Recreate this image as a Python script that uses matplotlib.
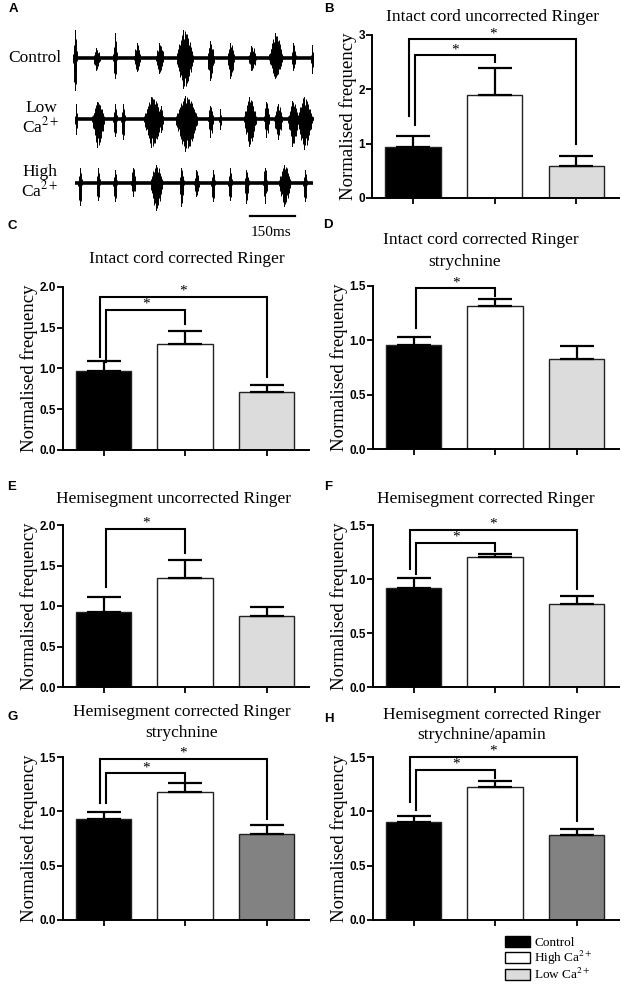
import matplotlib
matplotlib.use('Agg')
import matplotlib.pyplot as plt
from matplotlib.patches import Patch
import numpy as np

plt.rcParams['mathtext.fontset'] = 'stix'
SERIF = 'Liberation Serif'
SANS = 'Liberation Sans'

# ---- panel A: bursts (time ms, half width ms, up, down amplitude)
control_bursts = [(4, 6, 28, 32), (76, 11, 10, 12), (137, 6, 25, 20), (211, 11, 15, 13),
                  (286, 13, 15, 15), (370, 28, 28, 30), (456, 11, 17, 22), (523, 11, 15, 20),
                  (594, 13, 12, 12), (673, 22, 25, 20), (733, 7, 15, 12), (794, 4, 13, 15)]
low_bursts = [(7, 4, 15, 15), (81, 20, 17, 28), (137, 6, 15, 17), (164, 6, 15, 20),
              (264, 31, 22, 28), (292, 6, 13, 13), (376, 36, 23, 32), (456, 9, 13, 18),
              (487, 4, 10, 10), (587, 20, 22, 27), (642, 9, 17, 18), (681, 13, 15, 20),
              (731, 17, 18, 27), (770, 24, 22, 30)]
high_bursts = [(20, 6, 15, 22), (81, 6, 15, 17), (137, 6, 13, 18), (198, 8, 15, 13),
               (276, 20, 18, 27), (359, 7, 15, 23), (409, 8, 13, 13), (464, 6, 13, 18),
               (520, 6, 15, 17), (576, 7, 13, 20), (637, 7, 15, 20), (703, 20, 18, 23),
               (770, 6, 13, 18)]
trace_spans = [(0, 797), (5, 800), (3, 798)]
scale_ms = 150

# ---- bar panels
groups = ['Control', 'High Ca$^{2+}$', 'Low Ca$^{2+}$']
means = {
    'B': [0.93, 1.90, 0.58],
    'C': [0.97, 1.30, 0.71],
    'D': [0.96, 1.316, 0.83],
    'E': [0.93, 1.35, 0.88],
    'F': [0.92, 1.205, 0.767],
    'G': [0.93, 1.18, 0.79],
    'H': [0.90, 1.22, 0.78],
}
errors = {
    'B': [0.22, 0.49, 0.20],
    'C': [0.12, 0.16, 0.09],
    'D': [0.07, 0.065, 0.115],
    'E': [0.18, 0.22, 0.11],
    'F': [0.086, 0.025, 0.079],
    'G': [0.06, 0.08, 0.08],
    'H': [0.06, 0.06, 0.06],
}
# (first bar, second bar, bracket height, left leg end, right leg end)
brackets = {
    'B': [(0, 2, 2.92, 1.50, 0.99), (0, 1, 2.63, 1.34, 2.51)],
    'C': [(0, 2, 1.88, 1.14, 0.90), (0, 1, 1.72, 1.08, 1.55)],
    'D': [(0, 1, 1.48, 1.11, 1.405)],
    'E': [(0, 1, 1.95, 1.24, 1.65)],
    'F': [(0, 2, 1.455, 1.09, 0.905), (0, 1, 1.335, 1.05, 1.26)],
    'G': [(0, 2, 1.485, 1.08, 0.93), (0, 1, 1.35, 1.08, 1.28)],
    'H': [(0, 2, 1.50, 1.09, 0.91), (0, 1, 1.38, 1.01, 1.31)],
}
titles = {
    'B': ['Intact cord uncorrected Ringer'],
    'C': ['Intact cord corrected Ringer'],
    'D': ['Intact cord corrected Ringer', 'strychnine'],
    'E': ['Hemisegment uncorrected Ringer'],
    'F': ['Hemisegment corrected Ringer'],
    'G': ['Hemisegment corrected Ringer', 'strychnine'],
    'H': ['Hemisegment corrected Ringer', 'strychnine/apamin'],
}
yticks = {
    'B': [0, 1, 2, 3],
    'C': [0, 0.5, 1.0, 1.5, 2.0],
    'D': [0, 0.5, 1.0, 1.5],
    'E': [0, 0.5, 1.0, 1.5, 2.0],
    'F': [0, 0.5, 1.0, 1.5],
    'G': [0, 0.5, 1.0, 1.5],
    'H': [0, 0.5, 1.0, 1.5],
}
light_gray = '#dcdcdc'
dark_gray = '#828282'
bar_colors = {k: ['black', 'white', light_gray] for k in means}
bar_colors['G'] = ['black', 'white', dark_gray]
bar_colors['H'] = ['black', 'white', dark_gray]

# layout in figure pixels: left, top, right, bottom of each axes
boxes = {
    'B': (372, 35, 619, 198),
    'C': (63, 287, 309, 450),
    'D': (373, 286, 619, 449),
    'E': (63, 525, 309, 687),
    'F': (373, 525, 619, 687),
    'G': (63, 757, 309, 920),
    'H': (373, 757, 619, 920),
}
# title line positions (centre x, y) and panel letter positions
title_pos = {
    'B': [(493, 17)],
    'C': [(187, 259)],
    'D': [(481, 240), (465, 262)],
    'E': [(173, 499)],
    'F': [(486, 499)],
    'G': [(182, 712), (182, 733)],
    'H': [(492, 715), (482, 735)],
}
letter_pos = {'A': (13, 9), 'B': (329, 9), 'C': (12, 226), 'D': (328, 225),
              'E': (12, 487), 'F': (328, 487), 'G': (13, 717), 'H': (329, 719)}

fig = plt.figure(figsize=(6.24, 10), dpi=100)


def px_axes(left, top, right, bottom):
    return fig.add_axes([left / 624, 1 - bottom / 1000, (right - left) / 624, (bottom - top) / 1000])


def ftext(x, y, s, **kw):
    fig.text(x / 624, 1 - y / 1000, s, **kw)


# ---------------- panel A
axA = px_axes(60, 15, 320, 240)
axA.set_xlim(-46.7, 820)
axA.set_ylim(240, 15)
axA.axis('off')
baselines = [58, 119, 183]
# burst drawing style: envelope profile and a repeating spike texture
shape_t = [-1, -0.6, -0.2, 0.3, 0.7, 1]
shape_a = [0.15, 0.6, 1.0, 0.85, 0.45, 0.1]
texture = [1.0, 0.45, 0.8, 0.3, 0.95, 0.55, 0.7, 0.35]
for bursts, base, span in zip([control_bursts, low_bursts, high_bursts], baselines, trace_spans):
    axA.plot(span, [base, base], color='black', lw=2.6, solid_capstyle='butt')
    for c, hw, up, down in bursts:
        ts = np.arange(c - hw, c + hw + 0.01, 1.1)
        env = np.interp((ts - c) / hw, shape_t, shape_a)
        tex = np.resize(texture, len(ts))
        tex_dn = np.roll(tex, 3)
        axA.vlines(ts, base - up * env * tex, base + down * env * tex_dn, color='black', lw=0.7)
        axA.plot([c - hw * 0.2, c - hw * 0.2], [base - up, base + down], color='black', lw=0.7)
bar_start = 586.7
axA.plot([bar_start, bar_start + scale_ms], [216, 216], color='black', lw=1.6)
ftext(271, 232, '%dms' % scale_ms, family=SERIF, fontsize=11, ha='center', va='center')
ftext(35, 58, 'Control', family=SERIF, fontsize=12.5, ha='center', va='center')
ftext(41, 118, 'Low\nCa$^{2+}$', family=SERIF, fontsize=12.5, ha='center', va='center', linespacing=1.05)
ftext(40, 182, 'High\nCa$^{2+}$', family=SERIF, fontsize=12.5, ha='center', va='center', linespacing=1.05)

# ---------------- bar panels
x = np.arange(len(groups))
for key in ['B', 'C', 'D', 'E', 'F', 'G', 'H']:
    ax = px_axes(*boxes[key])
    m = means[key]
    e = errors[key]
    ax.bar(x, m, width=0.68, color=bar_colors[key], edgecolor='#222222', linewidth=1.0, zorder=2)
    ax.errorbar(x, m, yerr=[np.zeros(len(e)), e], fmt='none', ecolor='black',
                elinewidth=1.6, capsize=12, capthick=1.6, zorder=3)
    for i, j, ytop, yl, yr in brackets[key]:
        xl = x[i] + (-0.05 if j == 2 else 0.03)
        xr = x[j]
        ax.plot([xl, xl, xr, xr], [yl, ytop, ytop, yr], color='black', lw=1.5,
                clip_on=False, zorder=4, solid_joinstyle='miter')
        ax.annotate('*', ((xl + xr) / 2, ytop), xytext=(0, 4), textcoords='offset points',
                    ha='center', va='center', family=SERIF, fontsize=11, annotation_clip=False)
    ax.set_xlim(-0.5, 2.52)
    ax.set_ylim(0, yticks[key][-1])
    ax.set_yticks(yticks[key])
    if key == 'B':
        ax.set_yticklabels(['%d' % v for v in yticks[key]])
    else:
        ax.set_yticklabels(['%.1f' % v for v in yticks[key]])
    ax.set_xticks(x)
    ax.set_xticklabels([])
    for lab in ax.get_yticklabels():
        lab.set_fontfamily(SANS)
        lab.set_fontweight('bold')
        lab.set_fontsize(8.5)
    ax.tick_params(axis='both', direction='out', length=4, width=1.3, pad=1)
    for side in ['top', 'right']:
        ax.spines[side].set_visible(False)
    for side in ['left', 'bottom']:
        ax.spines[side].set_linewidth(1.4)
    ax.set_ylabel('Normalised frequency', family=SERIF, fontsize=13.5, labelpad=1)
    for line, (tx, ty) in zip(titles[key], title_pos[key]):
        ftext(tx, ty, line, family=SERIF, fontsize=12.5, ha='center', va='center')

for letter, (lx, ly) in letter_pos.items():
    ftext(lx, ly, letter, family=SANS, fontweight='bold', fontsize=9.5, ha='center', va='center')

# ---------------- legend
handles = [Patch(facecolor=c, edgecolor='black', linewidth=1.0) for c in ['black', 'white', light_gray]]
fig.legend(handles, groups, loc='upper left', bbox_to_anchor=(505 / 624, 1 - 936 / 1000),
           frameon=False, prop={'family': SERIF, 'size': 9.5}, handlelength=1.9,
           handleheight=0.9, labelspacing=0.0, handletextpad=0.3, borderpad=0, borderaxespad=0)

fig.savefig('out.png', dpi=100)
